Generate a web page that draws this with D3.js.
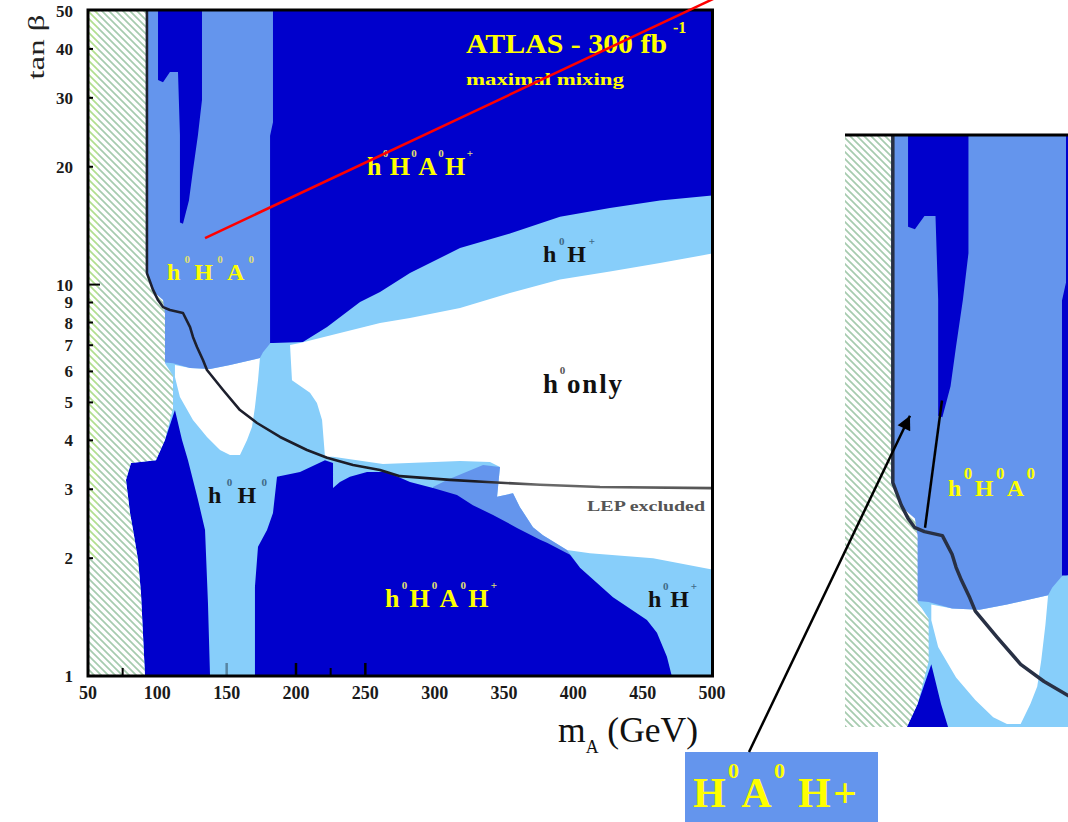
<!DOCTYPE html>
<html>
<head>
<meta charset="utf-8">
<script src="https://cdn.jsdelivr.net/npm/d3@7"></script>
<style>
  body { margin: 0; background: #fff; }
  svg { display: block; }
</style>
</head>
<body>
<svg id="chart" width="1068" height="822"></svg>
<script>
// ---- axis ticks ----
const massTicks = [50, 100, 150, 200, 250, 300, 350, 400, 450, 500];
const tanbTicks = [1, 2, 3, 4, 5, 6, 7, 8, 9, 10, 20, 30, 40, 50];
const massMajorMarks = [150, 200, 250];
const massMinorMarks = [75, 225];

// ---- discovery regions in the (m_A [GeV], tan beta) plane ----
const fullPlane = [[50, 1], [500, 1], [500, 50], [50, 50]];

// only h0 observable
const hOnlyMain = [
  [195.7, 7.01], [202.9, 7.09], [231.7, 7.52], [260.6, 7.98], [282.2, 8.22], [318.3, 8.71],
  [354.3, 9.52], [390.4, 10.3], [426.4, 10.8], [462.5, 11.35], [500, 12.0],
  [500, 1.87], [457.5, 2.0], [412, 2.06], [395.4, 2.10], [378.1, 2.29], [370.9, 2.40],
  [361.5, 2.70], [356.5, 2.93], [345, 2.87], [347.1, 3.42], [339.9, 3.52], [318.3, 3.54],
  [262.7, 3.48], [226.7, 3.63], [220.9, 3.63], [218.8, 4.51], [215.1, 4.98], [210.1, 5.29],
  [197.1, 5.70]
];
const hOnlyLobe = [
  [112.7, 6.23], [123.6, 6.12], [138, 6.09], [152.4, 6.23], [174, 6.49], [172.6, 5.70],
  [170.4, 4.86], [168.3, 4.33], [164.7, 4.01], [159.6, 3.67], [152.4, 3.67], [145.2, 3.78],
  [135.8, 4.08], [125.7, 4.51], [116.3, 5.16], [112.7, 5.81]
];

// h0 H0 A0 observable
const threeHiggsUpper = [
  [87.5, 50], [186, 50], [186, 26], [182.5, 24], [182.5, 7.15], [176.2, 6.72], [174, 6.49],
  [152.4, 6.23], [138, 6.09], [123.6, 6.12], [111.3, 6.30], [87.5, 6.42]
];
const threeHiggsLower = [
  [298.8, 3.04], [308.9, 3.17], [334.9, 3.46], [347.1, 3.42], [345, 2.87], [356.5, 2.93],
  [361.5, 2.70], [370.9, 2.40], [378.1, 2.29], [395.4, 2.10], [404.8, 1.89], [361.5, 1.87],
  [298.8, 2.5]
];

// h0 H0 A0 H+ observable
const fourHiggsStrip = [
  [100.5, 50], [132.2, 50], [132.2, 29.6], [129.3, 24.1], [125.7, 19.6], [122.8, 16.4],
  [118.5, 14.3], [116.3, 14.4], [116.3, 24.1], [114.9, 34.9], [109.1, 34.9], [104.1, 32.9],
  [100.5, 33.3]
];
const fourHiggsUpper = [
  [183.4, 50], [500, 50], [500, 16.9], [462.5, 16.4], [426.4, 15.7], [390.4, 14.9],
  [354.3, 13.5], [318.3, 12.4], [282.2, 10.7], [260.6, 9.57], [246.2, 9.03], [222.4, 7.79],
  [205, 7.13], [183.4, 7.09], [181.3, 7.09], [181.3, 24.0], [183.4, 26.0]
];
const fourHiggsLeft = [
  [91.1, 1], [88.2, 1.63], [86.1, 1.98], [82.5, 2.36], [80.3, 2.61], [77.4, 3.17], [81.0, 3.50],
  [99.0, 3.56], [105.5, 4.01], [112.7, 4.78], [117.8, 4.01], [122.1, 3.56], [129.3, 2.82],
  [134.4, 2.36], [136.5, 1.54], [138, 1]
];
const fourHiggsLower = [
  [170.4, 1], [170.4, 1.69], [172.6, 2.14], [179.1, 2.36], [183.4, 2.61], [186.3, 3.23],
  [202.9, 3.32], [220.9, 3.56], [226.7, 3.50], [226.7, 3.02], [231.7, 3.13], [238.9, 3.23],
  [251.2, 3.32], [265.6, 3.32], [282.2, 3.13], [298.8, 3.02], [316.1, 2.90], [327.6, 2.73],
  [342.1, 2.58], [359.4, 2.39], [376, 2.23], [381, 2.19], [397.6, 2.04], [404.8, 1.89],
  [428.6, 1.59], [453.1, 1.39], [460.3, 1.29], [467.5, 1.12], [471, 1]
];

// theoretically / LEP excluded area
const lepExcluded = [
  [50, 50], [91.8, 50], [91.8, 10.7], [98.3, 9.52], [104.1, 9.13], [105.5, 8.46], [105.5, 6.30],
  [111.3, 5.85], [111.3, 4.84], [105.5, 4.01], [99, 3.56], [81, 3.50], [77.4, 3.17], [80.3, 2.61],
  [82.5, 2.36], [86.1, 1.98], [88.2, 1.63], [91.1, 1], [50, 1]
];
// LEP exclusion limit
const lepLimit = [
  [92.5, 50], [92.5, 10.7], [96.9, 9.69], [100.5, 9.13], [104.1, 8.76], [109.1, 8.61],
  [118.5, 8.46], [123.6, 7.79], [125.7, 7.35], [128.6, 6.93], [132.9, 6.42], [135.8, 6.05],
  [147.4, 5.38], [159.6, 4.78], [171.9, 4.43], [188.5, 4.08], [207.9, 3.78], [222.4, 3.61],
  [241.1, 3.46], [260.6, 3.36], [275, 3.24], [311.1, 3.17], [337.7, 3.13], [376, 3.08],
  [419.2, 3.04], [500, 3.02]
];

// ---- region names (base letter, superscript) ----
const fourHiggsName = [['h', '0'], ['H', '0'], ['A', '0'], ['H', '+']];
const threeHiggsName = [['h', '0'], ['H', '0'], ['A', '0']];
const hHplusName = [['h', '0'], ['H', '+']];
const hHName = [['h', '0'], ['H', '0']];
const hOnlyName = [['h', '0'], ['only', '']];
const boxName = [['H', '0'], ['A', '0'], ['\u2009H+', '']];

// ---- styling ----
const DARK = '#0000cc', MID = '#6495ed', LIGHT = '#87cefa', YELLOW = '#ffff00';
const SERIF = '"Liberation Serif", "Times New Roman", serif';

const svg = d3.select('#chart');

// main panel scales
const x = d3.scaleLinear().domain([50, 500]).range([88, 712]);
const y = d3.scaleLog().domain([1, 50]).range([676, 11]);
// magnified panel scales
const xi = d3.scaleLinear().domain([67.4, 185.5]).range([845, 1070]);
const yi = d3.scaleLog().domain([3.62, 50]).range([727, 135]);

// ---- defs ----
const defs = svg.append('defs');
defs.append('clipPath').attr('id', 'clipMain')
  .append('rect').attr('x', 88).attr('y', 11).attr('width', 624).attr('height', 665);
defs.append('clipPath').attr('id', 'clipInset')
  .append('rect').attr('x', 845).attr('y', 135).attr('width', 223).attr('height', 592);

function hatchPattern(id, colour) {
  const p = defs.append('pattern').attr('id', id)
    .attr('patternUnits', 'userSpaceOnUse').attr('width', 7).attr('height', 7);
  p.append('rect').attr('width', 7).attr('height', 7).attr('fill', '#fff');
  p.append('path').attr('d', 'M-1,-1L8,8M-1,6L1,8M6,-1L8,1')
    .attr('stroke', colour).attr('stroke-width', 1.7);
}
hatchPattern('hatch', '#a6cbaf');
hatchPattern('hatchLime', '#b3e38a');

const grad = defs.append('linearGradient').attr('id', 'lepStroke')
  .attr('gradientUnits', 'userSpaceOnUse').attr('x1', 88).attr('x2', 712).attr('y1', 0).attr('y2', 0);
grad.append('stop').attr('offset', 0).attr('stop-color', '#1e2233');
grad.append('stop').attr('offset', 0.62).attr('stop-color', '#1a1a22');
grad.append('stop').attr('offset', 0.72).attr('stop-color', '#6a6a6a');
grad.append('stop').attr('offset', 1).attr('stop-color', '#555');

defs.append('marker').attr('id', 'arrowHead')
  .attr('viewBox', '0 0 10 10').attr('refX', 10).attr('refY', 5)
  .attr('markerUnits', 'userSpaceOnUse').attr('markerWidth', 17).attr('markerHeight', 14)
  .attr('orient', 'auto')
  .append('path').attr('d', 'M0,0L10,5L0,10Z').attr('fill', '#000');

// ---- region drawing, shared by both panels ----
function drawPanel(g, sx, sy, lineStroke, lineWidth) {
  const line = d3.line().x(d => sx(d[0])).y(d => sy(d[1]));
  const poly = pts => line(pts) + 'Z';
  g.append('path').attr('d', poly(fullPlane)).attr('fill', LIGHT);
  [hOnlyMain, hOnlyLobe].forEach(p => g.append('path').attr('d', poly(p)).attr('fill', '#fff'));
  [threeHiggsUpper, threeHiggsLower].forEach(p => g.append('path').attr('d', poly(p)).attr('fill', MID));
  [fourHiggsStrip, fourHiggsUpper, fourHiggsLeft, fourHiggsLower]
    .forEach(p => g.append('path').attr('d', poly(p)).attr('fill', DARK));
  g.append('path').attr('d', poly(lepExcluded)).attr('fill', 'url(#hatch)');
  return () => g.append('path').attr('d', line(lepLimit)).attr('fill', 'none')
    .attr('stroke', lineStroke).attr('stroke-width', lineWidth).attr('stroke-linejoin', 'round');
}

// ---- main panel ----
const gMain = svg.append('g').attr('clip-path', 'url(#clipMain)');
const drawMainLimit = drawPanel(gMain, x, y, 'url(#lepStroke)', 2.6);
gMain.append('rect').attr('x', x(50) + 1).attr('y', y(50)).attr('width', 9)
  .attr('height', y(2) - y(50)).attr('fill', 'url(#hatchLime)').attr('opacity', 0.85);
drawMainLimit();

// frame
svg.append('rect').attr('x', 88).attr('y', 10).attr('width', 624.5).attr('height', 666)
  .attr('fill', 'none').attr('stroke', '#000').attr('stroke-width', 3);

// bottom ticks (inward)
svg.append('g').selectAll('line').data(massMajorMarks).join('line')
  .attr('x1', d => x(d)).attr('x2', d => x(d)).attr('y1', 676).attr('y2', 663)
  .attr('stroke', '#000').attr('stroke-width', 2.5)
  .attr('opacity', d => d === 150 ? 0.35 : 1);
svg.append('g').selectAll('line').data(massMinorMarks).join('line')
  .attr('x1', d => x(d)).attr('x2', d => x(d)).attr('y1', 676).attr('y2', 668)
  .attr('stroke', '#000').attr('stroke-width', 2);
// left ticks (inward)
svg.append('g').selectAll('line').data(tanbTicks.filter(t => t > 1 && t < 50)).join('line')
  .attr('x1', 88).attr('x2', d => d === 10 ? 100 : 93)
  .attr('y1', d => y(d)).attr('y2', d => y(d))
  .attr('stroke', '#000').attr('stroke-width', 2);

// tick labels
svg.append('g').selectAll('text').data(massTicks).join('text')
  .attr('x', d => x(d)).attr('y', 699).attr('text-anchor', 'middle')
  .attr('font-family', SERIF).attr('font-weight', 'bold').attr('font-size', 18)
  .attr('fill', '#1a1a1a').text(d => d);
svg.append('g').selectAll('text').data(tanbTicks).join('text')
  .attr('x', 73).attr('y', d => y(d) + 6).attr('text-anchor', 'end')
  .attr('font-family', SERIF).attr('font-weight', 'bold').attr('font-size', 17)
  .attr('fill', '#1a1a1a').text(d => d);

// axis titles
svg.append('text').attr('transform', 'translate(44,47) rotate(-90)')
  .attr('text-anchor', 'middle').attr('font-family', SERIF).attr('font-size', 23)
  .attr('fill', '#222').attr('textLength', 65).attr('lengthAdjust', 'spacingAndGlyphs')
  .text('tan \u03b2');
const xTitle = svg.append('text').attr('x', 558).attr('y', 742)
  .attr('font-family', SERIF).attr('font-size', 36).attr('fill', '#111')
  .attr('textLength', 140).attr('lengthAdjust', 'spacingAndGlyphs');
xTitle.append('tspan').text('m');
xTitle.append('tspan').attr('font-size', 18).attr('dy', 11).text('A');
xTitle.append('tspan').attr('dy', -11).text(' (GeV)');

// ---- labels with superscripts ----
function supLabel(px, py, parts, o) {
  const t = svg.append('text').attr('x', px).attr('y', py)
    .attr('font-family', SERIF).attr('font-weight', 'bold')
    .attr('font-size', o.size).attr('fill', o.fill);
  const sh = Math.round(o.size * 0.7);
  let raised = false;
  parts.forEach(([base, sup]) => {
    const b = t.append('tspan').text(base);
    if (raised) { b.attr('dy', sh); raised = false; }
    if (sup) {
      t.append('tspan').attr('dy', -sh).attr('font-size', o.supSize)
        .attr('fill', o.supFill || o.fill).text(sup);
      raised = true;
    }
  });
  if (o.width) t.attr('textLength', o.width).attr('lengthAdjust', 'spacing');
  return t;
}

const regionLabels = [
  { parts: fourHiggsName, at: [251.2, 19.05], size: 26, width: 106, fill: YELLOW, supFill: '#e0e070' },
  { parts: threeHiggsName, at: [107.0, 10.27], size: 24, width: 87, fill: YELLOW, supFill: '#e0e070' },
  { parts: hHplusName, at: [378.1, 11.42], size: 24, width: 52, fill: '#111', supFill: '#3f6a86' },
  { parts: hOnlyName, at: [378.1, 5.29], size: 27, width: 79, fill: '#111', supFill: '#555' },
  { parts: hHName, at: [136.5, 2.77], size: 24, width: 59, fill: '#111', supFill: '#3f6a86' },
  { parts: fourHiggsName, at: [264.2, 1.50], size: 26, width: 112, fill: YELLOW, supFill: '#e0e070' },
  { parts: hHplusName, at: [453.8, 1.50], size: 24, width: 49, fill: '#111', supFill: '#3f6a86' }
];
regionLabels.forEach(l => supLabel(x(l.at[0]), y(l.at[1]), l.parts,
  { size: l.size, supSize: 11, fill: l.fill, supFill: l.supFill, width: l.width }));

svg.append('text').attr('x', x(409.9)).attr('y', y(2.64))
  .attr('font-family', SERIF).attr('font-weight', 'bold').attr('font-size', 15)
  .attr('fill', '#555').attr('textLength', 118).attr('lengthAdjust', 'spacingAndGlyphs')
  .text('LEP excluded');

// experiment / luminosity
svg.append('text').attr('x', x(322.6)).attr('y', y(39.0))
  .attr('font-family', SERIF).attr('font-weight', 'bold').attr('font-size', 28)
  .attr('fill', YELLOW).attr('textLength', 201).attr('lengthAdjust', 'spacingAndGlyphs')
  .text('ATLAS - 300 fb');
svg.append('text').attr('x', x(322.6) + 207).attr('y', y(39.0) - 20)
  .attr('font-family', SERIF).attr('font-weight', 'bold').attr('font-size', 16)
  .attr('fill', YELLOW).text('-1');
svg.append('text').attr('x', x(322.6)).attr('y', y(32.3))
  .attr('font-family', SERIF).attr('font-weight', 'bold').attr('font-size', 17)
  .attr('fill', YELLOW).attr('textLength', 158).attr('lengthAdjust', 'spacingAndGlyphs')
  .text('maximal mixing');

// ---- magnified panel ----
const gInset = svg.append('g').attr('clip-path', 'url(#clipInset)');
drawPanel(gInset, xi, yi, '#283044', 3.5)();
svg.append('line').attr('x1', 845).attr('x2', 1068).attr('y1', 135).attr('y2', 135)
  .attr('stroke', '#000').attr('stroke-width', 3);
supLabel(xi(121.5), yi(10.1), threeHiggsName,
  { size: 24, supSize: 17, fill: YELLOW, width: 87 });

// pointer from the limit kink to the tip of the dark strip
const pointer = [[109.4, 8.76], [118.3, 15.4]];
svg.append('line')
  .attr('x1', xi(pointer[0][0])).attr('y1', yi(pointer[0][1]))
  .attr('x2', xi(pointer[1][0])).attr('y2', yi(pointer[1][1]))
  .attr('stroke', '#000').attr('stroke-width', 2.5);

// caption box with arrow into the magnified panel
const box = { x: 685, y: 752, w: 193, h: 70 };
svg.append('rect').attr('x', box.x).attr('y', box.y).attr('width', box.w).attr('height', box.h)
  .attr('fill', MID);
supLabel(box.x + 8, box.y + 55, boxName, { size: 42, supSize: 22, fill: YELLOW, width: 164 });
const arrowTarget = [101.5, 14.4];
svg.append('line').attr('x1', box.x + 64).attr('y1', box.y)
  .attr('x2', xi(arrowTarget[0])).attr('y2', yi(arrowTarget[1]))
  .attr('stroke', '#000').attr('stroke-width', 2.5).attr('marker-end', 'url(#arrowHead)');

// red pointer leaving the h0 H0 A0 label
const redPointer = [[134.4, 13.15], [534.6, 61.1]];
svg.append('line')
  .attr('x1', x(redPointer[0][0])).attr('y1', y(redPointer[0][1]))
  .attr('x2', x(redPointer[1][0])).attr('y2', y(redPointer[1][1]))
  .attr('stroke', '#ff0000').attr('stroke-width', 2.5);
</script>
</body>
</html>
